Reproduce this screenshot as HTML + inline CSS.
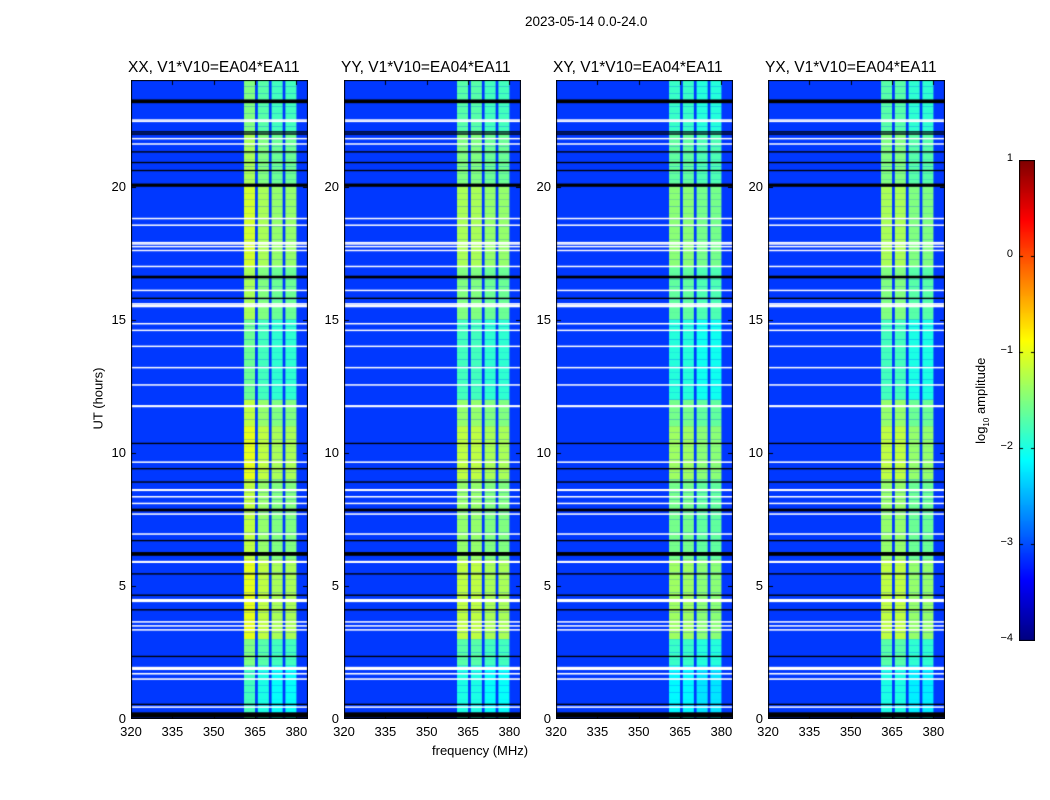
<!DOCTYPE html>
<html><head><meta charset="utf-8">
<style>
body{margin:0;background:#fff;font-family:"Liberation Sans","DejaVu Sans",sans-serif;}
#root{position:relative;width:1050px;height:800px;overflow:hidden;background:#fff;}
.t{position:absolute;font-size:13px;color:#000;white-space:nowrap;}
.pt{position:absolute;font-size:15.5px;white-space:nowrap;}
canvas{position:absolute;}
</style></head>
<body>
<div id="root">
<div class="t" style="left:525px;top:14px;font-size:13.5px;">2023-05-14 0.0-24.0</div>
<div class="t" style="left:432px;top:743px;">frequency (MHz)</div>
<div class="t" style="left:60px;top:391px;transform:rotate(-90deg);transform-origin:center;width:76px;text-align:center;">UT (hours)</div>
<canvas id="cb" width="16" height="481" style="left:1019px;top:160px;"></canvas>
<div class="t" style="left:924px;top:392px;width:116px;text-align:center;transform:rotate(-90deg);">log<sub style="font-size:8px">10</sub> amplitude</div>
</div>
<script>
// ---- data ----
const panelTitles = ["XX, V1*V10=EA04*EA11","YY, V1*V10=EA04*EA11","XY, V1*V10=EA04*EA11","YX, V1*V10=EA04*EA11"];
const xTicks = [320,335,350,365,380];
const yTicks = [0,5,10,15,20];
const cbTicks = [1,0,-1,-2,-3,-4];
const bandStarts = [361,366,371,376];
const bandEnds = [365,370,375,380];
const bandLevelsXX = [-1.2,-1.4,-1.5,-1.5];
const bandLevelsYY = [-1.4,-1.4,-1.5,-1.5];
const bandLevelsXY = [-1.55,-1.55,-1.65,-1.65];
const bandLevelsYX = [-1.4,-1.4,-1.6,-1.6];
const backgroundLevel = -3.1;
const hourGain = [-0.6,-0.6,-0.3,0.2,0.2,0.2,0,0,0,0.2,0.2,0,-0.4,-0.4,-0.4,-0.1,-0.1,0.1,0.1,0.1,-0.1,-0.1,-0.3,-0.3];
const whiteFlagHours = [23.2,22.5,22.45,21.8,21.6,18.8,18.55,17.9,17.85,17.75,17.6,17.0,16.1,15.6,15.55,15.5,14.85,14.6,14.0,13.2,12.55,11.75,9.65,8.6,8.35,8.1,7.7,6.95,5.9,4.45,3.65,3.5,3.35,1.9,1.7,1.5,0.45];
const whiteFlagWidths = [0.06,0.05,0.05,0.05,0.05,0.05,0.05,0.04,0.04,0.04,0.05,0.05,0.05,0.04,0.04,0.04,0.05,0.05,0.05,0.05,0.05,0.08,0.05,0.08,0.05,0.05,0.05,0.05,0.08,0.12,0.05,0.05,0.05,0.12,0.06,0.06,0.05];
const blackFlagHours = [23.2,22.05,21.97,21.3,20.9,20.6,20.05,16.6,15.8,10.35,9.4,8.9,7.85,6.7,6.2,5.45,4.65,4.1,2.35,0.55,0.15];
const blackFlagWidths = [0.14,0.05,0.05,0.05,0.05,0.05,0.12,0.1,0.05,0.05,0.05,0.05,0.1,0.05,0.14,0.05,0.05,0.05,0.05,0.05,0.2];
const panelLevels = [bandLevelsXX,bandLevelsYY,bandLevelsXY,bandLevelsYX];
const panelLefts = [131,344,556,768];
// ---- layout ----
const PW=177, PT=80, PB=719, FMIN=320, FMAX=384.2, HMIN=0, HMAX=24;
function jet(v){
  let t=Math.max(0,Math.min(1,(v+4)/5));
  const c=x=>Math.max(0,Math.min(1,x));
  const r=c(1.5-Math.abs(4*t-3)), g=c(1.5-Math.abs(4*t-2)), b=c(1.5-Math.abs(4*t-1));
  return `rgb(${Math.round(r*255)},${Math.round(g*255)},${Math.round(b*255)})`;
}
const root=document.getElementById('root');
function div(cls,txt,css,name){const d=document.createElement('div');d.className=cls;d.textContent=txt;d.style.cssText=css;


root.appendChild(d);return d;}
panelTitles.forEach((title,p)=>{
  const L=panelLefts[p];
  const xs=f=>(f-FMIN)/(FMAX-FMIN)*PW;
  const ys=h=>(PB-PT)-(h-HMIN)/(HMAX-HMIN)*(PB-PT);
  const cv=document.createElement('canvas');
  cv.width=PW;cv.height=PB-PT;cv.style.left=L+'px';cv.style.top=PT+'px';
  
  
  root.appendChild(cv);
  const ctx=cv.getContext('2d');
  ctx.fillStyle=jet(backgroundLevel);ctx.fillRect(0,0,PW,PB-PT);
  const lv=panelLevels[p];
  for(let q=0;q<96;q++){
    const h0=q*0.25,h1=h0+0.25,g=hourGain[Math.floor(h0)];
    for(let b=0;b<bandStarts.length;b++){
      const x0=xs(bandStarts[b]),x1=xs(bandEnds[b]);
      ctx.fillStyle=jet(lv[b]+g);
      ctx.fillRect(x0,ys(h1),x1-x0,ys(h0)-ys(h1));
    }
  }
  whiteFlagHours.forEach((h,i)=>{const w=whiteFlagWidths[i];ctx.fillStyle='#fff';ctx.fillRect(0,ys(h+w/2),PW,Math.max(1.5,ys(h-w/2)-ys(h+w/2)));});
  blackFlagHours.forEach((h,i)=>{const w=blackFlagWidths[i];ctx.fillStyle='#000';ctx.fillRect(0,ys(h+w/2),PW,Math.max(1.2,ys(h-w/2)-ys(h+w/2)));});
  ctx.strokeStyle='#000';ctx.lineWidth=1;ctx.strokeRect(0.5,0.5,PW-1,PB-PT-1);
  xTicks.forEach(f=>{const x=Math.round(xs(f))+0.5;ctx.beginPath();ctx.moveTo(x,PB-PT);ctx.lineTo(x,PB-PT-5);ctx.moveTo(x,0);ctx.lineTo(x,5);ctx.stroke();
    div('t',String(f),`left:${L+xs(f)-12}px;top:724px;width:24px;text-align:center;`,'x-tick-label');});
  yTicks.forEach(h=>{const y=Math.round(ys(h))+0.5;ctx.beginPath();ctx.moveTo(0,y);ctx.lineTo(5,y);ctx.moveTo(PW,y);ctx.lineTo(PW-5,y);ctx.stroke();
    div('t',String(h),`left:${L-30}px;top:${PT+ys(h)-8}px;width:25px;text-align:right;`,'y-tick-label');});
  div('pt',title,`left:${L-3}px;top:59px;`,'panel-title');
});
// colorbar
const cb=document.getElementById('cb').getContext('2d');
const CBH=481;
const cbY=v=>(1-v)/5*(CBH-1);
for(let i=0;i<CBH;i++){const v=1-i/(CBH-1)*5;cb.fillStyle=jet(v);cb.fillRect(0,i,16,1);}
cb.strokeStyle='#000';cb.strokeRect(0.5,0.5,15,CBH-1);
cbTicks.forEach(v=>{const y=Math.round(cbY(v))+0.5;cb.beginPath();cb.moveTo(0,y);cb.lineTo(4,y);cb.moveTo(16,y);cb.lineTo(12,y);cb.stroke();
  div('t',String(v).replace('-','\u2212'),`left:980px;top:${160+cbY(v)-8}px;width:33px;text-align:right;font-size:11px;`,'colorbar-tick-label');});
</script>
</body></html>
